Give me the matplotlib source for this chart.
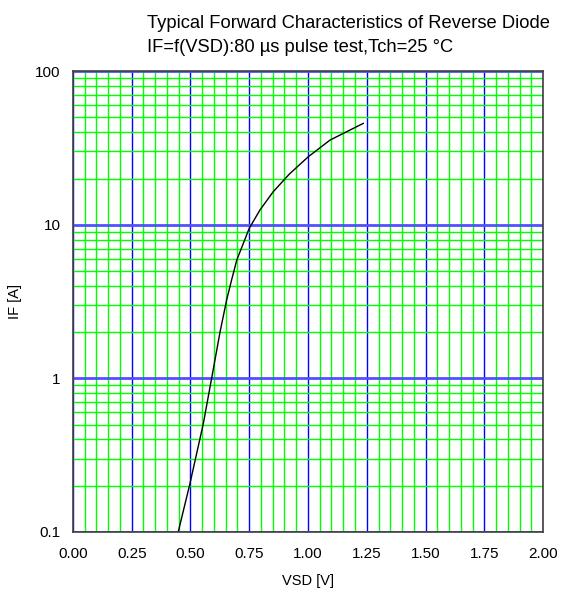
import matplotlib
matplotlib.use("Agg")
import matplotlib.pyplot as plt
from matplotlib.ticker import FixedLocator, NullFormatter

plt.rcParams['font.family'] = ['Liberation Sans', 'DejaVu Sans']

# curve
vsd = [0.448, 0.498, 0.555, 0.590, 0.626, 0.654, 0.675, 0.697, 0.725, 0.750,
       0.796, 0.852, 0.921, 1.001, 1.094, 1.235]
i_f = [0.1, 0.207, 0.51, 1.0, 2.01, 3.24, 4.37, 5.89, 7.57, 9.48,
       12.5, 16.4, 21.4, 27.7, 35.6, 45.7]

x_major = [0.0, 0.25, 0.5, 0.75, 1.0, 1.25, 1.5, 1.75, 2.0]
x_labels = ["0.00", "0.25", "0.50", "0.75", "1.00", "1.25", "1.50", "1.75", "2.00"]
y_major = [0.1, 1, 10, 100]
y_labels = ["0.1", "1", "10", "100"]

fig = plt.figure(figsize=(5.61, 5.93), dpi=100)
ax = fig.add_axes([0.130, 0.103, 0.838, 0.777])

ax.set_yscale("log")
ax.set_xlim(0, 2)
ax.set_ylim(0.1, 100)

x_minor = [k * 0.05 for k in range(41) if k % 5 != 0]
y_minor = [m * 10.0 ** d for d in range(-1, 2) for m in range(2, 10)]
ax.xaxis.set_major_locator(FixedLocator(x_major))
ax.xaxis.set_minor_locator(FixedLocator(x_minor))
ax.yaxis.set_major_locator(FixedLocator(y_major))
ax.yaxis.set_minor_locator(FixedLocator(y_minor))
ax.set_xticklabels(x_labels)
ax.set_yticklabels(y_labels)
ax.yaxis.set_minor_formatter(NullFormatter())

ax.grid(True, which="minor", color="#00ff00", linewidth=1.0)
ax.grid(True, which="major", axis="x", color="#0000ff", linewidth=1.0)
ax.grid(True, which="major", axis="y", color="#5050ff", linewidth=2.0)
ax.set_axisbelow(True)

ax.tick_params(which="both", length=0, labelsize=11, pad=11)
ax.tick_params(axis="y", pad=9)

ax.plot(vsd, i_f, color="black", linewidth=1.0)

for s in ax.spines.values():
    s.set_color("#404040")
    s.set_linewidth(1.2)

ax.set_xlabel("VSD [V]", fontsize=10.5, labelpad=9)
ax.set_ylabel("IF [A]", fontsize=10.5, labelpad=9)

fig.text(0.262, 0.960, "Typical Forward Characteristics of Reverse Diode", fontsize=13.2, va="center", ha="left")
fig.text(0.262, 0.920, "IF=f(VSD):80 \u00b5s pulse test,Tch=25 \u00b0C", fontsize=13.2, va="center", ha="left")

fig.savefig("out.png", dpi=100)
